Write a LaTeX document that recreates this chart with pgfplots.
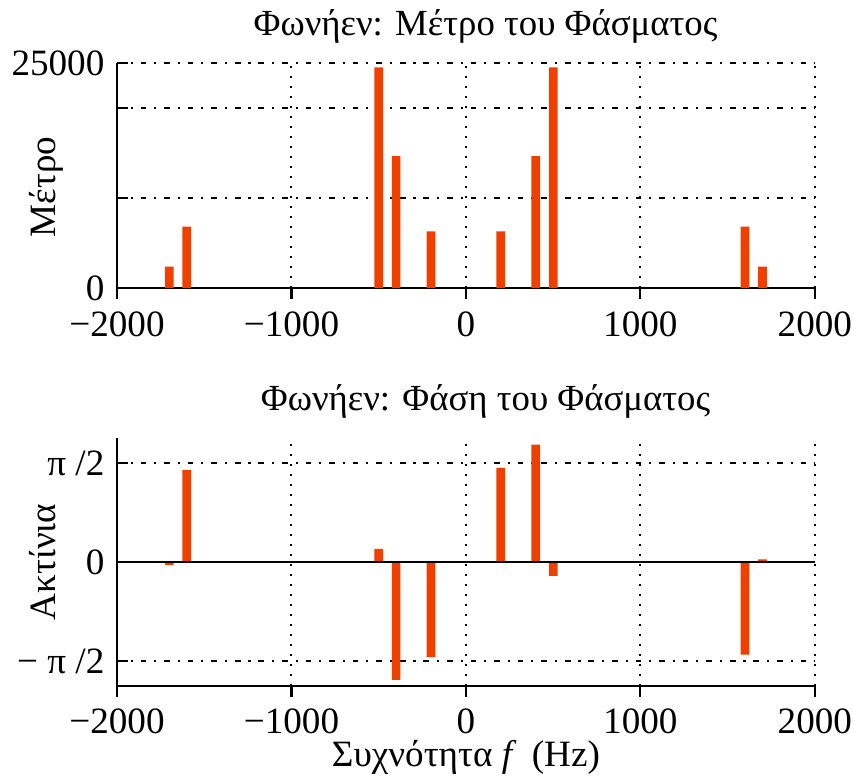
\documentclass[border=0pt]{standalone}
\usepackage{pgfplots}
\pgfplotsset{compat=1.18}
\usepackage{fontspec}
\setmainfont{Liberation Serif}
\definecolor{barc}{RGB}{240,64,0}
\pgfplotsset{
  common/.style={
    scale only axis, width=195.4pt,
    xmin=-2000, xmax=2000,
    axis x line*=bottom, axis y line*=left,
    axis line style={line width=0.7pt, -},
    xtick={-2000,-1000,0,1000,2000},
    xticklabels={−2000,−1000,0,1000,2000},
    tick align=inside, major tick length=3pt,
    tick style={black, line width=0.6pt},
    grid=major,
    x grid style={black, line width=0.55pt, dash pattern=on 0.6pt off 2.2pt},
    y grid style={black, line width=0.55pt, dash pattern=on 1.6pt off 2.2pt on 0.6pt off 2.2pt},
    tick label style={font=\fontsize{10.4}{12}\selectfont},
    label style={font=\fontsize{10.4}{12}\selectfont},
    title style={font=\fontsize{10.3}{12}\selectfont, yshift=-4pt, xshift=5.5pt},
    ylabel style={at={(axis description cs:-0.0875,0.5)}, anchor=base, rotate=0},
    /pgf/number format/assume math mode=true,
    ybar, bar shift=0pt, bar width=50,
  }
}
\begin{document}
\begin{tikzpicture}
\useasboundingbox (-32.76pt,-136.92pt) rectangle (206.36pt,80.64pt);
\begin{axis}[common,
  at={(0,0)}, anchor=south west,
  height=63pt,
  ymin=0, ymax=25000,
  ytick={0,10000,20000,25000},
  yticklabels={0,,,25000},
  scaled y ticks=false,
  title={Φωνήεν: Μέτρο του Φάσματος},
  ylabel={Μέτρο},
  ylabel style={at={(axis description cs:-0.0875,0.45)}},
]
\addplot[fill=barc, draw=none] coordinates {
(-1700,2367) (-1600,6811) (-500,24511) (-400,14667) (-200,6289)
(200,6289) (400,14667) (500,24511) (1600,6811) (1700,2367)};
\end{axis}
\begin{axis}[common,
  at={(0,-42pt)}, anchor=north west,
  height=69.4pt,
  ymin=-1.967, ymax=1.967,
  ytick={-1.5708,0,1.5708},
  yticklabels={− π /2,0,π /2},
  title={Φωνήεν: Φάση του Φάσματος},
  ylabel={Ακτίνια},
  xlabel={Συχνότητα \textit{f}\, (Hz)},
  xlabel style={at={(axis description cs:0.5,-0.327)}, anchor=base},
]
\addplot[fill=barc, draw=none] coordinates {
(-1700,-0.05) (-1600,1.456) (-500,0.207) (-400,-1.871) (-200,-1.51)
(200,1.494) (400,1.861) (500,-0.223) (1600,-1.472) (1700,0.04)};
\addplot[sharp plot, black, line width=0.7pt] coordinates {(-2000,0) (2000,0)};
\end{axis}
\end{tikzpicture}
\end{document}
